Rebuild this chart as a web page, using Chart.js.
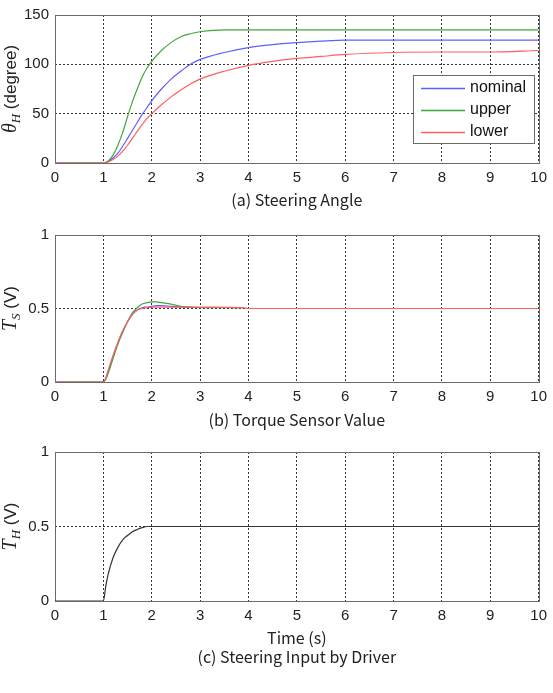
<!DOCTYPE html>
<html>
<head>
<meta charset="utf-8">
<script src="https://cdn.jsdelivr.net/npm/chart.js@4.4.1/dist/chart.umd.min.js"></script>
<style>
  html, body { margin: 0; padding: 0; background: #fff; }
  #wrap { position: relative; width: 553px; height: 693px; }
  canvas { position: absolute; left: 0; }
</style>
</head>
<body>
<div id="wrap">
  <canvas id="chartA" width="553" height="215" style="top:0px"></canvas>
  <canvas id="chartB" width="553" height="215" style="top:220px"></canvas>
  <canvas id="chartC" width="553" height="256" style="top:437px"></canvas>
</div>
<script>
// Achsen-Ticks
const xTicks = [0, 1, 2, 3, 4, 5, 6, 7, 8, 9, 10];
const yTicksA = [0, 50, 100, 150];
const yTicksBC = [0, 0.5, 1];
const seriesNames = ['nominal', 'upper', 'lower'];
const seriesColors = ['#5f5fff', '#3fa83f', '#ff5f5f'];

// (a) Steering Angle, Grad
const timeA = [0, 1, 1.1, 1.2, 1.3, 1.4, 1.5, 1.6, 1.7, 1.8, 1.9, 2.0, 2.2, 2.4, 2.6, 2.8, 3.0, 3.5, 4, 4.5, 5, 5.5, 6, 7, 8, 9, 10];
const nominalA = [0, 0, 1.5, 5, 10, 17, 25, 33, 41, 49, 56, 63, 75, 85, 93, 100, 105, 112, 117, 120, 122, 123.5, 124.5, 124.5, 124.5, 124.5, 124.5];
const upperA = [0, 0, 2, 8, 18, 31, 47, 62, 75, 87, 96, 103, 114, 122, 128, 131, 133, 135, 135, 135, 135, 135, 135, 135, 135, 135, 135];
const lowerA = [0, 0, 1, 3.5, 7, 12, 18, 25, 32, 39, 45, 50, 59, 67, 74, 80, 85, 93, 99, 103, 106, 108, 110, 112, 112.5, 112.5, 114];

// (b) Torque Sensor Value, V
const timeB = [0, 1, 1.05, 1.1, 1.2, 1.3, 1.4, 1.5, 1.6, 1.7, 1.8, 1.9, 2.0, 2.1, 2.2, 2.4, 2.6, 2.8, 3.0, 3.5, 3.9, 4.0, 5, 6, 7, 8, 9, 10];
const nominalB = [0, 0, 0.02, 0.07, 0.17, 0.26, 0.34, 0.41, 0.46, 0.49, 0.505, 0.51, 0.515, 0.52, 0.52, 0.515, 0.51, 0.51,
  null, null, null, null, null, null, null, null, null, null];
const upperB = [0, 0, 0.02, 0.06, 0.16, 0.26, 0.34, 0.41, 0.47, 0.505, 0.53, 0.54, 0.545, 0.545, 0.54, 0.53, 0.515, 0.51, 0.505, 0.505, 0.505,
  null, null, null, null, null, null, null];
const lowerB = [0, 0, 0.03, 0.08, 0.18, 0.27, 0.35, 0.41, 0.46, 0.49, 0.5, 0.505, 0.51, 0.51, 0.51, 0.51, 0.51, 0.51, 0.51, 0.508, 0.505,
  0.5, 0.5, 0.5, 0.5, 0.5, 0.5, 0.5];

// (c) Steering Input by Driver, V
const timeC = [0, 1, 1.05, 1.1, 1.2, 1.3, 1.4, 1.5, 1.6, 1.7, 1.8, 1.9, 2, 10];
const inputC = [0, 0, 0.1, 0.18, 0.29, 0.36, 0.41, 0.44, 0.465, 0.48, 0.492, 0.5, 0.5, 0.5];

const tickFont = { family: '"Liberation Sans", Arial, sans-serif', size: 15 };
const captionFont = { family: '"Noto Sans CJK JP", sans-serif', size: 16 };

// Rahmen um die Plotflaeche (wie MATLAB box on)
const frame = {
  id: 'frame',
  beforeDatasetsDraw(chart) {
    const { ctx, chartArea: a } = chart;
    ctx.save();
    ctx.strokeStyle = '#6a6a6a';
    ctx.lineWidth = 1;
    ctx.strokeRect(Math.round(a.left) + 0.5, Math.round(a.top) + 0.5,
      Math.round(a.right - a.left), Math.round(a.bottom - a.top));
    ctx.restore();
  }
};

// y-Achsentitel mit Index (theta_H, T_S, T_H)
const yLabel = {
  id: 'yLabel',
  afterDraw(chart, args, opts) {
    const { ctx, chartArea: a } = chart;
    const parts = opts.parts || [];
    ctx.save();
    let total = 0;
    parts.forEach(p => { ctx.font = p.font; p.w = ctx.measureText(p.text).width; total += p.w; });
    ctx.translate(opts.x, (a.top + a.bottom) / 2);
    ctx.rotate(-Math.PI / 2);
    ctx.fillStyle = '#222';
    ctx.textBaseline = 'alphabetic';
    let x = -total / 2;
    parts.forEach(p => {
      ctx.font = p.font;
      ctx.fillText(p.text, x, p.dy || 0);
      x += p.w;
    });
    ctx.restore();
  }
};

// Legende im Plot (rechts unten)
const boxLegend = {
  id: 'boxLegend',
  afterDatasetsDraw(chart, args, opts) {
    const { ctx } = chart;
    ctx.save();
    ctx.fillStyle = '#fff';
    ctx.fillRect(opts.x, opts.y, opts.w, opts.h);
    ctx.strokeStyle = '#6a6a6a';
    ctx.lineWidth = 1;
    ctx.strokeRect(opts.x + 0.5, opts.y + 0.5, opts.w, opts.h);
    ctx.font = '16px "Liberation Sans", Arial, sans-serif';
    ctx.textBaseline = 'middle';
    chart.data.datasets.forEach((ds, i) => {
      const y = opts.y + 13 + i * 22;
      ctx.strokeStyle = ds.borderColor;
      ctx.lineWidth = 1.3;
      ctx.beginPath();
      ctx.moveTo(opts.x + 8, y + 0.5);
      ctx.lineTo(opts.x + 52, y + 0.5);
      ctx.stroke();
      ctx.fillStyle = '#111';
      ctx.fillText(ds.label, opts.x + 57, y);
    });
    ctx.restore();
  }
};

function toPoints(t, v) {
  return t.map((x, i) => ({ x, y: v[i] }));
}

function lineSet(label, color, t, v, order) {
  return {
    label,
    data: toPoints(t, v),
    borderColor: color,
    borderWidth: 1.2,
    pointRadius: 0,
    cubicInterpolationMode: 'monotone',
    order
  };
}

function buildChart(id, cfg) {
  return new Chart(document.getElementById(id), {
    type: 'line',
    data: { datasets: cfg.datasets },
    options: {
      responsive: false,
      animation: false,
      devicePixelRatio: 1,
      layout: { padding: { top: cfg.top, right: 12, left: 0, bottom: 0 } },
      plugins: {
        legend: { display: false },
        tooltip: { enabled: false },
        yLabel: { x: 16, parts: cfg.yLabel },
        boxLegend: cfg.legend || false
      },
      scales: {
        x: {
          type: 'linear',
          min: 0,
          max: 10,
          afterBuildTicks: s => { s.ticks = xTicks.map(v => ({ value: v })); },
          afterFit: s => { s.height = cfg.xHeight; },
          ticks: { font: tickFont, color: '#222', padding: 6, maxRotation: 0, callback: v => String(v) },
          grid: { color: '#333', drawTicks: false },
          border: { display: false, dash: [2, 2] },
          title: {
            display: true,
            text: cfg.caption,
            font: captionFont,
            color: '#222',
            padding: { top: 0, bottom: cfg.captionPad }
          }
        },
        y: {
          type: 'linear',
          min: cfg.yTicks[0],
          max: cfg.yTicks[cfg.yTicks.length - 1],
          afterBuildTicks: s => { s.ticks = cfg.yTicks.map(v => ({ value: v })); },
          afterFit: s => { s.width = 55; },
          ticks: { font: tickFont, color: '#222', padding: 6, callback: v => String(v) },
          grid: { color: '#333', drawTicks: false },
          border: { display: false, dash: [2, 2] }
        }
      }
    },
    plugins: [frame, yLabel, boxLegend]
  });
}

const serifIt = 'italic 20px "Liberation Serif", serif';
const subIt = 'italic 13px "Liberation Serif", serif';
const sans = '17px "Liberation Sans", Arial, sans-serif';

buildChart('chartA', {
  top: 15,
  xHeight: 52,
  caption: '(a) Steering Angle',
  captionPad: 5,
  yTicks: yTicksA,
  yLabel: [
    { text: 'θ', font: serifIt },
    { text: 'H', font: subIt, dy: 4 },
    { text: ' (degree)', font: sans }
  ],
  legend: { x: 413, y: 75, w: 121, h: 68 },
  datasets: [
    lineSet(seriesNames[0], seriesColors[0], timeA, nominalA, 3),
    lineSet(seriesNames[1], seriesColors[1], timeA, upperA, 2),
    lineSet(seriesNames[2], seriesColors[2], timeA, lowerA, 1)
  ]
});

buildChart('chartB', {
  top: 14,
  xHeight: 53,
  caption: '(b) Torque Sensor Value',
  captionPad: 5,
  yTicks: yTicksBC,
  yLabel: [
    { text: 'T', font: serifIt },
    { text: 'S', font: subIt, dy: 4 },
    { text: ' (V)', font: sans }
  ],
  datasets: [
    lineSet(seriesNames[0], seriesColors[0], timeB, nominalB, 3),
    lineSet(seriesNames[1], seriesColors[1], timeB, upperB, 2),
    lineSet(seriesNames[2], seriesColors[2], timeB, lowerB, 1)
  ]
});

buildChart('chartC', {
  top: 14,
  xHeight: 92,
  caption: ['Time (s)', '(c) Steering Input by Driver'],
  captionPad: 26,
  yTicks: yTicksBC,
  yLabel: [
    { text: 'T', font: serifIt },
    { text: 'H', font: subIt, dy: 4 },
    { text: ' (V)', font: sans }
  ],
  datasets: [
    lineSet('T_H', '#333', timeC, inputC, 1)
  ]
});
</script>
</body>
</html>
